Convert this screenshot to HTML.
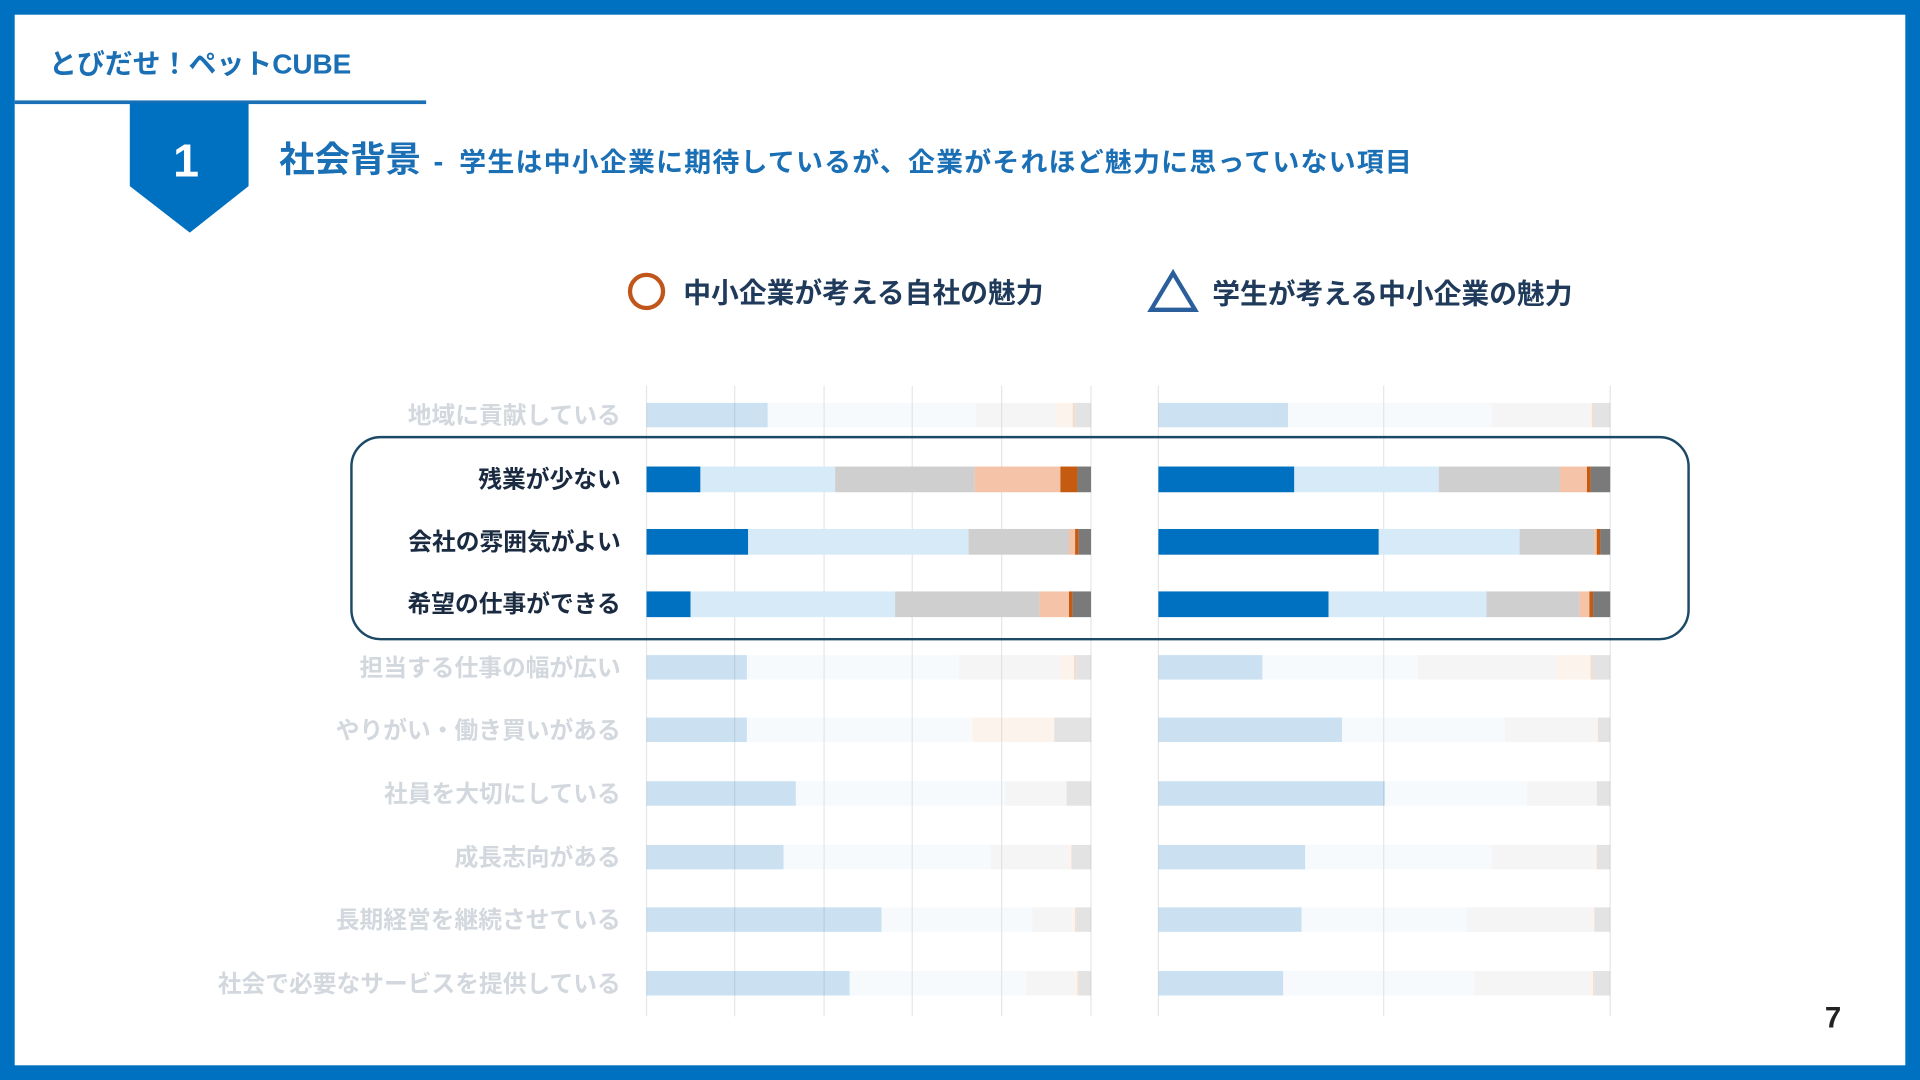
<!DOCTYPE html>
<html><head><meta charset="utf-8"><style>
html,body{margin:0;padding:0;width:1920px;height:1080px;overflow:hidden;background:#fff}
svg{display:block}
text{font-family:"Liberation Sans","Noto Sans CJK JP",sans-serif;font-weight:bold}
</style></head><body>
<svg width="1920" height="1080" viewBox="0 0 1568 882" xmlns="http://www.w3.org/2000/svg">
<rect x="0" y="0" width="1568" height="882" fill="#0070c0"/>
<rect x="12" y="12" width="1544" height="858" fill="#fff"/>
<text x="40" y="60" font-size="22.8" fill="#1a6fb5">とびだせ！ペットCUBE</text>
<rect x="12" y="82" width="336" height="3" fill="#1a6fb5"/>
<polygon points="106,84 203,84 203,152 155,190 106,152" fill="#0070c0"/>
<text x="152" y="144" font-size="38" fill="#fff" text-anchor="middle">1</text>
<text x="228" y="140" font-size="29" fill="#1a6fb5">社会背景</text>
<text x="354" y="140" font-size="24" fill="#1a6fb5">-</text>
<text x="375" y="140" font-size="22" fill="#1a6fb5" textLength="778" lengthAdjust="spacing">学生は中小企業に期待しているが、企業がそれほど魅力に思っていない項目</text>
<circle cx="528" cy="238" r="13.5" fill="none" stroke="#c0561c" stroke-width="3.5"/>
<text x="558" y="247" font-size="22.7" fill="#1f3a5a">中小企業が考える自社の魅力</text>
<polygon points="958,223 976,253 940,253" fill="none" stroke="#2a5f9b" stroke-width="3.5" stroke-linejoin="miter"/>
<text x="990" y="248" font-size="22.7" fill="#1f3a5a">学生が考える中小企業の魅力</text>
<g stroke="#e6e6e6" stroke-width="1">
<line x1="528" y1="315" x2="528" y2="830"/><line x1="600" y1="315" x2="600" y2="830"/><line x1="673" y1="315" x2="673" y2="830"/><line x1="745" y1="315" x2="745" y2="830"/><line x1="818" y1="315" x2="818" y2="830"/><line x1="891" y1="315" x2="891" y2="830"/>
<line x1="946" y1="315" x2="946" y2="830"/><line x1="1130" y1="315" x2="1130" y2="830"/><line x1="1315" y1="315" x2="1315" y2="830"/>
</g>
<g font-size="19.4" text-anchor="end">
<text x="507" y="346" fill="#d3d8de">地域に貢献している</text>
<text x="507" y="398" fill="#1a2a40">残業が少ない</text>
<text x="507" y="449" fill="#1a2a40">会社の雰囲気がよい</text>
<text x="507" y="500" fill="#1a2a40">希望の仕事ができる</text>
<text x="507" y="552" fill="#d3d8de">担当する仕事の幅が広い</text>
<text x="507" y="603" fill="#d3d8de">やりがい・働き買いがある</text>
<text x="507" y="655" fill="#d3d8de">社員を大切にしている</text>
<text x="507" y="707" fill="#d3d8de">成長志向がある</text>
<text x="507" y="758" fill="#d3d8de">長期経営を継続させている</text>
<text x="507" y="810" fill="#d3d8de">社会で必要なサービスを提供している</text>
</g>
<g opacity="0.2">
<rect x="528" y="329" width="99" height="20" fill="#0070c0"/><rect x="627" y="329" width="170" height="20" fill="#d6eaf8"/><rect x="797" y="329" width="65" height="20" fill="#cfcfcf"/><rect x="862" y="329" width="14" height="20" fill="#f5c4a8"/><rect x="876" y="329" width="2" height="20" fill="#c55a11"/><rect x="878" y="329" width="13" height="20" fill="#7a7a7a"/>
<rect x="946" y="329" width="106" height="20" fill="#0070c0"/><rect x="1052" y="329" width="166" height="20" fill="#d6eaf8"/><rect x="1218" y="329" width="79" height="20" fill="#cfcfcf"/><rect x="1297" y="329" width="3" height="20" fill="#f5c4a8"/><rect x="1300" y="329" width="1" height="20" fill="#c55a11"/><rect x="1301" y="329" width="14" height="20" fill="#7a7a7a"/>
<rect x="528" y="535" width="82" height="20" fill="#0070c0"/><rect x="610" y="535" width="173" height="20" fill="#d6eaf8"/><rect x="783" y="535" width="82" height="20" fill="#cfcfcf"/><rect x="865" y="535" width="12" height="20" fill="#f5c4a8"/><rect x="877" y="535" width="2" height="20" fill="#c55a11"/><rect x="879" y="535" width="12" height="20" fill="#7a7a7a"/>
<rect x="946" y="535" width="85" height="20" fill="#0070c0"/><rect x="1031" y="535" width="127" height="20" fill="#d6eaf8"/><rect x="1158" y="535" width="114" height="20" fill="#cfcfcf"/><rect x="1272" y="535" width="27" height="20" fill="#f5c4a8"/><rect x="1299" y="535" width="2" height="20" fill="#c55a11"/><rect x="1301" y="535" width="14" height="20" fill="#7a7a7a"/>
<rect x="528" y="586" width="82" height="20" fill="#0070c0"/><rect x="610" y="586" width="184" height="20" fill="#d6eaf8"/><rect x="794" y="586" width="67" height="20" fill="#f5c4a8"/><rect x="861" y="586" width="30" height="20" fill="#7a7a7a"/>
<rect x="946" y="586" width="150" height="20" fill="#0070c0"/><rect x="1096" y="586" width="133" height="20" fill="#d6eaf8"/><rect x="1229" y="586" width="74" height="20" fill="#cfcfcf"/><rect x="1303" y="586" width="2" height="20" fill="#f5c4a8"/><rect x="1305" y="586" width="10" height="20" fill="#7a7a7a"/>
<rect x="528" y="638" width="122" height="20" fill="#0070c0"/><rect x="650" y="638" width="171" height="20" fill="#d6eaf8"/><rect x="821" y="638" width="50" height="20" fill="#cfcfcf"/><rect x="871" y="638" width="20" height="20" fill="#7a7a7a"/>
<rect x="946" y="638" width="185" height="20" fill="#0070c0"/><rect x="1131" y="638" width="116" height="20" fill="#d6eaf8"/><rect x="1247" y="638" width="57" height="20" fill="#cfcfcf"/><rect x="1304" y="638" width="11" height="20" fill="#7a7a7a"/>
<rect x="528" y="690" width="112" height="20" fill="#0070c0"/><rect x="640" y="690" width="169" height="20" fill="#d6eaf8"/><rect x="809" y="690" width="63" height="20" fill="#cfcfcf"/><rect x="872" y="690" width="3" height="20" fill="#f5c4a8"/><rect x="875" y="690" width="16" height="20" fill="#7a7a7a"/>
<rect x="946" y="690" width="120" height="20" fill="#0070c0"/><rect x="1066" y="690" width="152" height="20" fill="#d6eaf8"/><rect x="1218" y="690" width="84" height="20" fill="#cfcfcf"/><rect x="1302" y="690" width="2" height="20" fill="#f5c4a8"/><rect x="1304" y="690" width="11" height="20" fill="#7a7a7a"/>
<rect x="528" y="741" width="192" height="20" fill="#0070c0"/><rect x="720" y="741" width="123" height="20" fill="#d6eaf8"/><rect x="843" y="741" width="33" height="20" fill="#cfcfcf"/><rect x="876" y="741" width="2" height="20" fill="#f5c4a8"/><rect x="878" y="741" width="1" height="20" fill="#c55a11"/><rect x="879" y="741" width="12" height="20" fill="#7a7a7a"/>
<rect x="946" y="741" width="117" height="20" fill="#0070c0"/><rect x="1063" y="741" width="135" height="20" fill="#d6eaf8"/><rect x="1198" y="741" width="102" height="20" fill="#cfcfcf"/><rect x="1300" y="741" width="2" height="20" fill="#f5c4a8"/><rect x="1302" y="741" width="13" height="20" fill="#7a7a7a"/>
<rect x="528" y="793" width="166" height="20" fill="#0070c0"/><rect x="694" y="793" width="144" height="20" fill="#d6eaf8"/><rect x="838" y="793" width="40" height="20" fill="#cfcfcf"/><rect x="878" y="793" width="2" height="20" fill="#f5c4a8"/><rect x="880" y="793" width="1" height="20" fill="#c55a11"/><rect x="881" y="793" width="10" height="20" fill="#7a7a7a"/>
<rect x="946" y="793" width="102" height="20" fill="#0070c0"/><rect x="1048" y="793" width="156" height="20" fill="#d6eaf8"/><rect x="1204" y="793" width="95" height="20" fill="#cfcfcf"/><rect x="1299" y="793" width="2" height="20" fill="#f5c4a8"/><rect x="1301" y="793" width="1" height="20" fill="#c55a11"/><rect x="1302" y="793" width="13" height="20" fill="#7a7a7a"/>
</g>
<rect x="528" y="381" width="44" height="21" fill="#0070c0"/><rect x="572" y="381" width="110" height="21" fill="#d6eaf8"/><rect x="682" y="381" width="114" height="21" fill="#cfcfcf"/><rect x="796" y="381" width="70" height="21" fill="#f5c4a8"/><rect x="866" y="381" width="14" height="21" fill="#c55a11"/><rect x="880" y="381" width="11" height="21" fill="#7a7a7a"/>
<rect x="946" y="381" width="111" height="21" fill="#0070c0"/><rect x="1057" y="381" width="118" height="21" fill="#d6eaf8"/><rect x="1175" y="381" width="99" height="21" fill="#cfcfcf"/><rect x="1274" y="381" width="22" height="21" fill="#f5c4a8"/><rect x="1296" y="381" width="3" height="21" fill="#c55a11"/><rect x="1299" y="381" width="16" height="21" fill="#7a7a7a"/>
<rect x="528" y="432" width="83" height="21" fill="#0070c0"/><rect x="611" y="432" width="180" height="21" fill="#d6eaf8"/><rect x="791" y="432" width="82" height="21" fill="#cfcfcf"/><rect x="873" y="432" width="5" height="21" fill="#f5c4a8"/><rect x="878" y="432" width="3" height="21" fill="#c55a11"/><rect x="881" y="432" width="10" height="21" fill="#7a7a7a"/>
<rect x="946" y="432" width="180" height="21" fill="#0070c0"/><rect x="1126" y="432" width="115" height="21" fill="#d6eaf8"/><rect x="1241" y="432" width="61" height="21" fill="#cfcfcf"/><rect x="1302" y="432" width="2" height="21" fill="#f5c4a8"/><rect x="1304" y="432" width="3" height="21" fill="#c55a11"/><rect x="1307" y="432" width="8" height="21" fill="#7a7a7a"/>
<rect x="528" y="483" width="36" height="21" fill="#0070c0"/><rect x="564" y="483" width="167" height="21" fill="#d6eaf8"/><rect x="731" y="483" width="118" height="21" fill="#cfcfcf"/><rect x="849" y="483" width="24" height="21" fill="#f5c4a8"/><rect x="873" y="483" width="3" height="21" fill="#c55a11"/><rect x="876" y="483" width="15" height="21" fill="#7a7a7a"/>
<rect x="946" y="483" width="139" height="21" fill="#0070c0"/><rect x="1085" y="483" width="129" height="21" fill="#d6eaf8"/><rect x="1214" y="483" width="76" height="21" fill="#cfcfcf"/><rect x="1290" y="483" width="8" height="21" fill="#f5c4a8"/><rect x="1298" y="483" width="3" height="21" fill="#c55a11"/><rect x="1301" y="483" width="14" height="21" fill="#7a7a7a"/>
<rect x="287" y="357" width="1092" height="165" rx="24" ry="24" fill="none" stroke="#1c4a66" stroke-width="2"/>
<text x="1497" y="839" font-size="24" fill="#222" text-anchor="middle">7</text>
</svg>
</body></html>
